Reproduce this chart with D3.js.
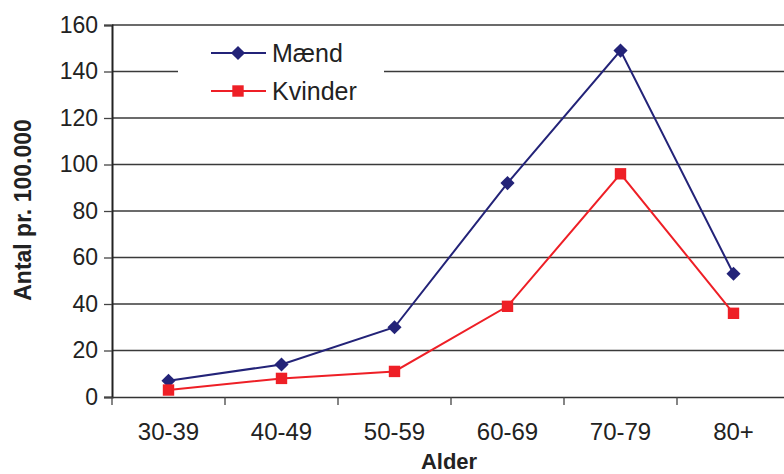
<!DOCTYPE html>
<html>
<head>
<meta charset="utf-8">
<script src="https://cdn.jsdelivr.net/npm/d3@7"></script>
<style>
  body { margin: 0; background: #fff; }
  text { font-family: "Liberation Sans", Arial, sans-serif; fill: #222; }
</style>
</head>
<body>
<div id="chart"></div>
<script>
var ageGroups = ["30-39", "40-49", "50-59", "60-69", "70-79", "80+"];
var maend = [7, 14, 30, 92, 149, 53];
var kvinder = [3, 8, 11, 39, 96, 36];
var yTicks = [0, 20, 40, 60, 80, 100, 120, 140, 160];

var width = 784, height = 474;
var margin = {top: 25, right: -6, bottom: 77, left: 112};
var w = width - margin.left - margin.right;
var h = height - margin.top - margin.bottom;

var svg = d3.select("#chart").append("svg")
    .attr("width", width)
    .attr("height", height);

var g = svg.append("g")
    .attr("transform", "translate(" + margin.left + "," + margin.top + ")");

var x = d3.scaleBand()
    .domain(ageGroups)
    .range([0, w]);

var y = d3.scaleLinear()
    .domain([0, 160])
    .range([h, 0]);

// gridlines
g.selectAll(".grid")
    .data(yTicks.filter(function(d) { return d > 0; }))
    .enter().append("line")
    .attr("x1", 0)
    .attr("x2", w)
    .attr("y1", function(d) { return y(d); })
    .attr("y2", function(d) { return y(d); })
    .attr("stroke", "#3a3a3a")
    .attr("stroke-width", 1.3);

// y axis
var yAxis = d3.axisLeft(y).tickValues(yTicks).tickSize(8).tickPadding(6);
var yg = g.append("g").call(yAxis);
yg.select(".domain").attr("stroke", "#222").attr("stroke-width", 2);
yg.selectAll(".tick line").attr("stroke", "#444").attr("stroke-width", 1.3);
yg.selectAll(".tick text").style("font-size", "23px").attr("fill", "#222");

// x axis
var xAxis = d3.axisBottom(x).tickSize(0).tickPadding(26);
var xg = g.append("g").attr("transform", "translate(0," + h + ")").call(xAxis);
xg.select(".domain").attr("stroke", "#333").attr("stroke-width", 1.5);
xg.selectAll(".tick text").style("font-size", "24px").attr("fill", "#222");

// category boundary ticks
g.selectAll(".xtick")
    .data(ageGroups)
    .enter().append("line")
    .attr("x1", function(d) { return x(d); })
    .attr("x2", function(d) { return x(d); })
    .attr("y1", h)
    .attr("y2", h + 8)
    .attr("stroke", "#444")
    .attr("stroke-width", 1.3);

// axis titles
svg.append("text")
    .attr("transform", "translate(31,210) rotate(-90)")
    .attr("text-anchor", "middle")
    .style("font-size", "23px")
    .style("font-weight", "bold")
    .text("Antal pr. 100.000");

svg.append("text")
    .attr("x", 449)
    .attr("y", 469)
    .attr("text-anchor", "middle")
    .style("font-size", "22px")
    .style("font-weight", "bold")
    .text("Alder");

var line = d3.line()
    .x(function(d, i) { return x(ageGroups[i]) + x.bandwidth() / 2; })
    .y(function(d) { return y(d); });

var series = [
    {name: "Mænd", values: maend, color: "#232378", symbol: d3.symbolSquare, size: 100, rot: 45},
    {name: "Kvinder", values: kvinder, color: "#ee1f26", symbol: d3.symbolSquare, size: 130, rot: 0}
];

// legend background
var legend = svg.append("g");
legend.append("rect")
    .attr("x", 178).attr("y", 30)
    .attr("width", 206).attr("height", 82)
    .attr("fill", "#fff");

series.forEach(function(s, i) {
    g.append("path")
        .datum(s.values)
        .attr("fill", "none")
        .attr("stroke", s.color)
        .attr("stroke-width", 2)
        .attr("d", line);

    g.selectAll(".m" + i)
        .data(s.values)
        .enter().append("path")
        .attr("transform", function(d, j) {
            return "translate(" + (x(ageGroups[j]) + x.bandwidth() / 2) + "," + y(d) + ") rotate(" + s.rot + ")";
        })
        .attr("d", d3.symbol().type(s.symbol).size(s.size))
        .attr("fill", s.color);

    var ly = 53 + i * 38;
    legend.append("line")
        .attr("x1", 211).attr("x2", 266)
        .attr("y1", ly).attr("y2", ly)
        .attr("stroke", s.color).attr("stroke-width", 2);
    legend.append("path")
        .attr("transform", "translate(238," + ly + ") rotate(" + s.rot + ")")
        .attr("d", d3.symbol().type(s.symbol).size(s.size))
        .attr("fill", s.color);
    legend.append("text")
        .attr("x", 272).attr("y", ly + 9)
        .style("font-size", "25px")
        .text(s.name);
});
</script>
</body>
</html>
